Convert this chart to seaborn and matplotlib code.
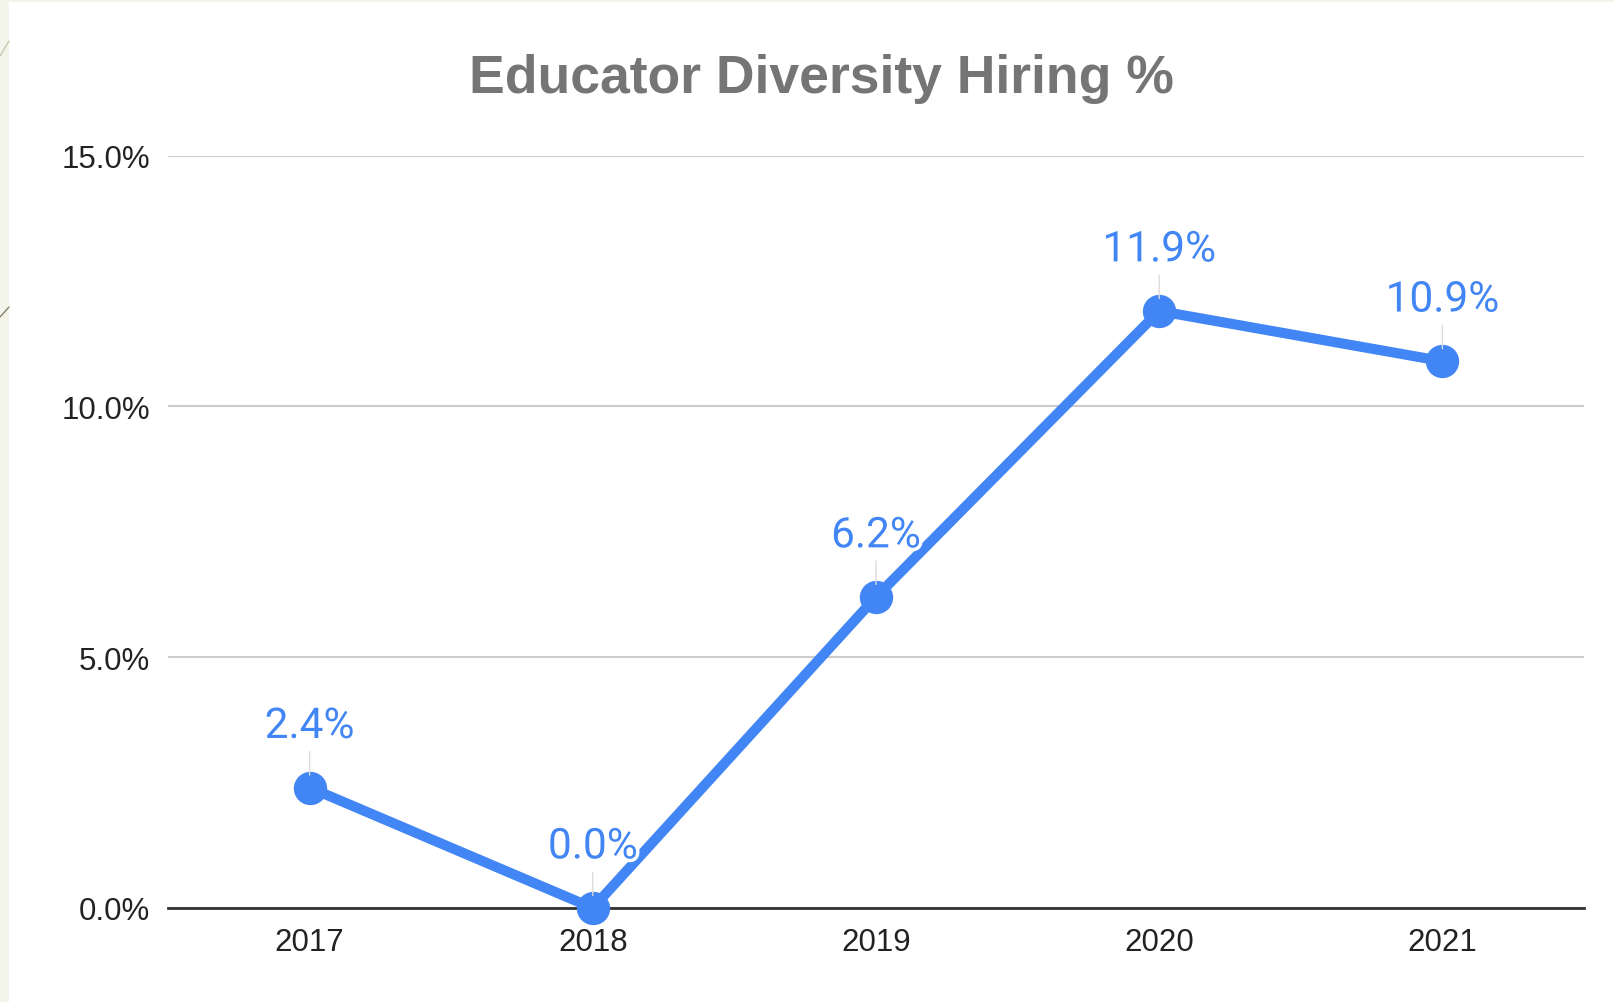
import matplotlib
matplotlib.use("Agg")
import matplotlib.pyplot as plt
import matplotlib.patheffects as pe
from matplotlib.patches import Rectangle
import seaborn as sns
import pandas as pd

years = ["2017", "2018", "2019", "2020", "2021"]
hiring_pct = [2.4, 0.0, 6.2, 11.9, 10.9]
y_ticks = [0, 5, 10, 15]
y_tick_labels = ["0.0%", "5.0%", "10.0%", "15.0%"]
title = "Educator Diversity Hiring %"

sns.set_theme(style="white")
plt.rcParams["font.family"] = ["Liberation Sans", "DejaVu Sans"]

BLUE = "#4285F4"
df = pd.DataFrame({"year": years, "pct": hiring_pct})

fig = plt.figure(figsize=(16.15, 10.03), dpi=100)
fig.patch.set_facecolor("#f3f5ea")
fig.add_artist(Rectangle((9 / 1615, 0), 1, 1 - 3 / 1003, transform=fig.transFigure,
                         facecolor="white", edgecolor="none", zorder=-5))
# small decorative diagonal strokes at left edge
fig.add_artist(plt.Line2D([0, 9 / 1615], [1 - 57 / 1003, 1 - 42 / 1003], transform=fig.transFigure,
                          color="#c9c6b0", lw=1, zorder=-4))
fig.add_artist(plt.Line2D([0, 9 / 1615], [1 - 318 / 1003, 1 - 308 / 1003], transform=fig.transFigure,
                          color="#8a7f68", lw=1, zorder=-4))

ax = fig.add_axes([168 / 1615, 94 / 1003, (1584 - 168) / 1615, (909 - 156.5) / 1003])
ax.set_facecolor("none")

sns.lineplot(data=df, x="year", y="pct", ax=ax, color=BLUE, linewidth=7.3,
             marker="o", markersize=24, markeredgewidth=0, clip_on=False, zorder=5,
             sort=False)

ax.set_xlim(-0.5, 4.5)
ax.set_ylim(0, 15)
ax.set_yticks(y_ticks)
ax.set_yticklabels(y_tick_labels)
ax.grid(axis="y", color="#cccccc", linewidth=1.5)
ax.grid(axis="x", visible=False)
ax.set_axisbelow(True)
for s in ["top", "right", "left"]:
    ax.spines[s].set_visible(False)
ax.spines["bottom"].set_color("#333333")
ax.spines["bottom"].set_linewidth(2)
ax.spines["bottom"].set_zorder(3)
ax.tick_params(axis="both", length=0, labelsize=22.5, colors="#222222")
ax.tick_params(axis="x", pad=14)
ax.tick_params(axis="y", pad=13)
ax.set_xlabel("")
ax.set_ylabel("")

for i, v in enumerate(hiring_pct):
    ax.annotate(f"{v:.1f}%", xy=(i, v), xytext=(0, 44), textcoords="offset points",
                ha="center", va="center", fontsize=30.5, color=BLUE,
                family=["Roboto", "DejaVu Sans"], zorder=6,
                path_effects=[pe.withStroke(linewidth=5, foreground="white")],
                arrowprops=dict(arrowstyle="-", color="#dcdcdc", lw=1,
                                shrinkA=1, shrinkB=9),
                annotation_clip=False)

fig.text(821 / 1615, 1 - 79 / 1003, title, ha="center", va="center",
         fontsize=38.5, fontweight="bold", color="#757575")

fig.savefig("out.png", dpi=100)
